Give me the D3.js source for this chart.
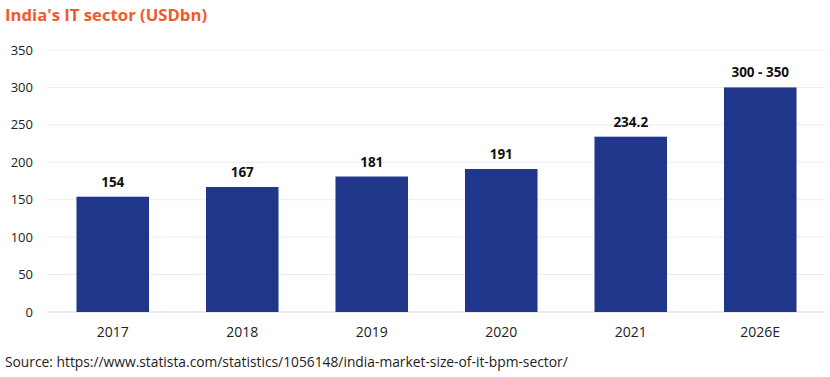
<!DOCTYPE html>
<html>
<head>
<meta charset="utf-8">
<script src="https://cdn.jsdelivr.net/npm/d3@7"></script>
<style>
  body { margin: 0; background: #fff; font-family: "Open Sans", "Lato", sans-serif; }
</style>
</head>
<body>
<div id="chart"></div>
<script>
const years = ["2017", "2018", "2019", "2020", "2021", "2026E"]
const values = [154, 167, 181, 191, 234.2, 300]
const labels = ["154", "167", "181", "191", "234.2", "300 - 350"]
const yTicks = [0, 50, 100, 150, 200, 250, 300, 350]

const width = 830, height = 377
const margin = {top: 50, right: 5, bottom: 65, left: 48}

const svg = d3.select("#chart").append("svg")
	.attr("width", width)
	.attr("height", height)

const x = d3.scaleBand()
	.domain(years)
	.range([margin.left, width - margin.right])
	.paddingInner(0.44)
	.paddingOuter(0.22)

const y = d3.scaleLinear()
	.domain([0, 350])
	.range([height - margin.bottom, margin.top])

// title
svg.append("text")
	.attr("x", 5)
	.attr("y", 21)
	.attr("fill", "#f15a29")
	.attr("font-weight", 700)
	.attr("font-size", 16.7)
	.text("India's IT sector (USDbn)")

// grid
svg.append("g")
	.selectAll("line")
	.data(yTicks)
	.enter()
	.append("line")
		.attr("x1", margin.left)
		.attr("x2", width - margin.right)
		.attr("y1", d => y(d))
		.attr("y2", d => y(d))
		.attr("stroke", d => d === 0 ? "#d9d9d9" : "#ececec")
		.attr("stroke-width", 1)

// y labels
svg.append("g")
	.selectAll("text")
	.data(yTicks)
	.enter()
	.append("text")
		.attr("x", 33)
		.attr("y", d => y(d) + 4.5)
		.attr("text-anchor", "end")
		.attr("font-size", 13)
		.attr("fill", "#222")
		.text(d => d)

// bars
svg.append("g")
	.selectAll("rect")
	.data(years)
	.enter()
	.append("rect")
		.attr("x", d => x(d))
		.attr("width", x.bandwidth())
		.attr("y", (d, i) => y(values[i]))
		.attr("height", (d, i) => y(0) - y(values[i]))
		.attr("fill", "#1f368b")

// value labels
svg.append("g")
	.selectAll("text")
	.data(years)
	.enter()
	.append("text")
		.attr("x", d => x(d) + x.bandwidth() / 2)
		.attr("y", (d, i) => y(values[i]) - 10)
		.attr("text-anchor", "middle")
		.attr("font-size", 13.5)
		.attr("font-weight", 700)
		.attr("fill", "#111")
		.text((d, i) => labels[i])

// x labels
svg.append("g")
	.selectAll("text")
	.data(years)
	.enter()
	.append("text")
		.attr("x", d => x(d) + x.bandwidth() / 2)
		.attr("y", y(0) + 25)
		.attr("text-anchor", "middle")
		.attr("font-size", 14)
		.attr("fill", "#222")
		.text(d => d)

// source
svg.append("text")
	.attr("x", 5)
	.attr("y", 367)
	.attr("font-size", 13.8)
	.attr("fill", "#222")
	.text("Source: https://www.statista.com/statistics/1056148/india-market-size-of-it-bpm-sector/")
</script>
</body>
</html>
